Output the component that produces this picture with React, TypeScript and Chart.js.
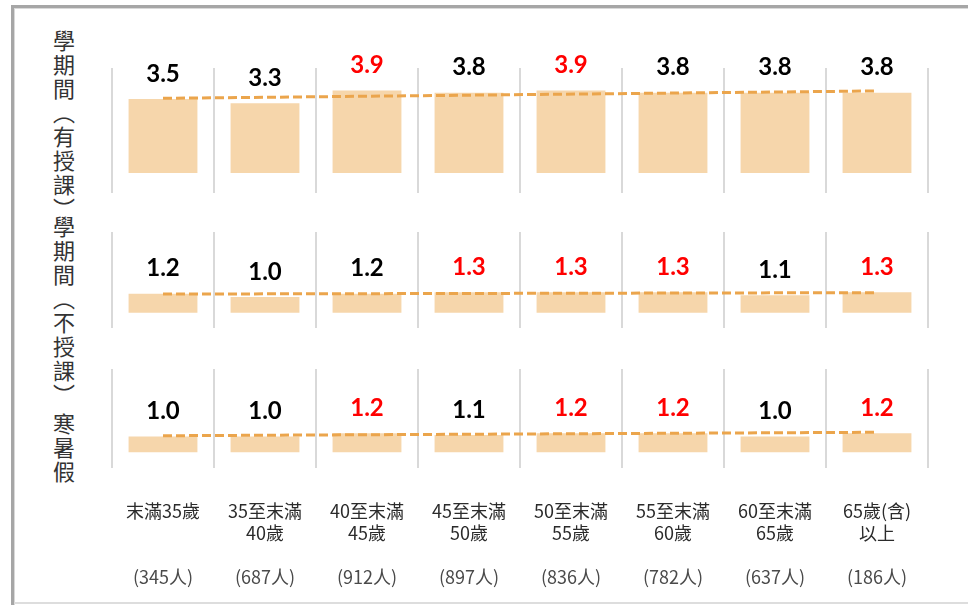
import React, { useEffect, useRef } from "react";
import { Chart, registerables } from "chart.js";

Chart.register(...registerables);

// ---------- data ----------
const categories: string[][] = [
  ["末滿35歲", ""],
  ["35至末滿", "40歲"],
  ["40至末滿", "45歲"],
  ["45至末滿", "50歲"],
  ["50至末滿", "55歲"],
  ["55至末滿", "60歲"],
  ["60至末滿", "65歲"],
  ["65歲(含)", "以上"],
];
const counts = ["(345人)", "(687人)", "(912人)", "(897人)", "(836人)", "(782人)", "(637人)", "(186人)"];

const panelLabels = ["學期間（有授課）", "學期間（不授課）", "寒暑假"];

const termTeaching = [3.5, 3.3, 3.9, 3.8, 3.9, 3.8, 3.8, 3.8];
const termNoTeaching = [1.2, 1.0, 1.2, 1.3, 1.3, 1.3, 1.1, 1.3];
const vacation = [1.0, 1.0, 1.2, 1.1, 1.2, 1.2, 1.0, 1.2];

const termTeachingHigh = [false, false, true, false, true, false, false, false];
const termNoTeachingHigh = [false, false, false, true, true, true, false, true];
const vacationHigh = [false, false, true, false, true, true, false, true];

// trend line: value at first and last category
const termTeachingTrend = [3.53, 3.88];
const termNoTeachingTrend = [1.18, 1.27];
const vacationTrend = [1.05, 1.27];

// ---------- styles ----------
const BAR_COLOR = "#F6D6AB";
const TREND_COLOR = "#EBA54C";
const GRID_COLOR = "#D9D9D9";
const RED = "#FF0000";
const BLACK = "#000000";

type Panel = {
  values: number[];
  high: boolean[];
  trend: number[];
  top: number;
  height: number;
  padTop: number;
  padBottom: number;
  yMin: number;
  yMax: number;
  showTicks: boolean;
};

const panels: Panel[] = [
  { values: termTeaching, high: termTeachingHigh, trend: termTeachingTrend, top: 40, height: 160, padTop: 28, padBottom: 7, yMin: -0.946, yMax: 4.965, showTicks: false },
  { values: termNoTeaching, high: termNoTeachingHigh, trend: termNoTeachingTrend, top: 200, height: 140, padTop: 32, padBottom: 12, yMin: -0.968, yMax: 5.11, showTicks: false },
  { values: vacation, high: vacationHigh, trend: vacationTrend, top: 340, height: 265, padTop: 29, padBottom: 17, yMin: -0.99, yMax: 5.27, showTicks: true },
];

const valueLabelPlugin = {
  id: "valueLabels",
  afterDatasetsDraw(chart: any) {
    const ctx = chart.ctx;
    chart.data.datasets.forEach((ds: any, i: number) => {
      const meta = chart.getDatasetMeta(i);
      if (meta.type !== "bar") return;
      const colors: string[] = ds.labelColors;
      meta.data.forEach((el: any, j: number) => {
        ctx.save();
        ctx.font = "bold 24px Lato, 'Open Sans', sans-serif";
        ctx.fillStyle = colors[j];
        ctx.textAlign = "center";
        ctx.textBaseline = "middle";
        ctx.fillText(Number(ds.data[j]).toFixed(1), el.x, el.y - 25);
        ctx.restore();
      });
    });
  },
};

function PanelChart({ p }: { p: Panel }) {
  const ref = useRef<HTMLCanvasElement>(null);
  useEffect(() => {
    if (!ref.current) return;
    const trendData: (number | null)[] = p.values.map(() => null);
    trendData[0] = p.trend[0];
    trendData[trendData.length - 1] = p.trend[1];
    const scales: any = {
      x: {
        type: "category",
        labels: categories as any,
        offset: true,
        weight: 0,
        grid: { display: true, offset: true, color: GRID_COLOR, lineWidth: 2, drawTicks: false },
        border: { display: false },
        ticks: {
          display: p.showTicks,
          color: "#2b2b2b",
          padding: 32,
          maxRotation: 0,
          minRotation: 0,
          autoSkip: false,
          font: { family: "'Noto Sans CJK TC', sans-serif", size: 18, lineHeight: 1.222 },
        },
        afterFit: (scale: any) => {
          if (p.showTicks) scale.height = 76;
          scale.paddingLeft = 0;
          scale.paddingRight = 0;
        },
      },
      y: { display: false, min: p.yMin, max: p.yMax },
    };
    if (p.showTicks) {
      scales.x2 = {
        type: "category",
        labels: counts,
        position: "bottom",
        offset: true,
        weight: 1,
        grid: { display: false, drawTicks: false },
        border: { display: false },
        ticks: {
          color: "#4a4a4a",
          padding: 22,
          maxRotation: 0,
          minRotation: 0,
          autoSkip: false,
          font: { family: "'Noto Sans CJK TC', sans-serif", size: 18, lineHeight: 1.222 },
        },
        afterFit: (scale: any) => {
          scale.height = 44;
          scale.paddingLeft = 0;
          scale.paddingRight = 0;
        },
      };
    }
    const chart = new Chart(ref.current, {
      type: "bar",
      data: {
        labels: categories as any,
        datasets: [
          {
            type: "line",
            data: trendData,
            spanGaps: true,
            borderColor: TREND_COLOR,
            borderWidth: 3,
            borderDash: [9, 4],
            pointRadius: 0,
            fill: false,
            order: 0,
            xAxisID: "x",
            yAxisID: "y",
          } as any,
          {
            type: "bar",
            data: p.values,
            backgroundColor: BAR_COLOR,
            borderWidth: 0,
            categoryPercentage: 1,
            barPercentage: 0.675,
            order: 1,
            labelColors: p.high.map((h) => (h ? RED : BLACK)),
            xAxisID: "x",
            yAxisID: "y",
          } as any,
        ],
      },
      options: {
        responsive: false,
        animation: false,
        events: [],
        layout: { padding: { left: 12, right: 12, top: p.padTop, bottom: p.padBottom } },
        plugins: { legend: { display: false }, tooltip: { enabled: false }, title: { display: false } },
        scales,
      },
      plugins: [valueLabelPlugin],
    });
    return () => chart.destroy();
  }, [p]);
  return (
    <canvas
      ref={ref}
      width={840}
      height={p.height}
      style={{ position: "absolute", left: 100, top: p.top, width: 840, height: p.height, display: "block" }}
    />
  );
}

const labelTops = [30, 216, 413];

export default function App() {
  return (
    <div
      style={{
        position: "fixed",
        left: 0,
        top: 0,
        width: 968,
        height: 605,
        background: "#ffffff",
        overflow: "hidden",
      }}
    >
      {/* frame */}
      <div style={{ position: "absolute", left: 11, top: 5, width: 957, height: 3, background: "#A6A6A6" }} />
      <div style={{ position: "absolute", left: 11, top: 8, width: 957, height: 1, background: "#D9D9D9" }} />
      <div style={{ position: "absolute", left: 11, top: 5, width: 3, height: 600, background: "#A6A6A6" }} />
      <div style={{ position: "absolute", left: 14, top: 8, width: 1, height: 597, background: "#D9D9D9" }} />
      <div style={{ position: "absolute", left: 14, top: 602, width: 954, height: 2, background: "#DDDDDD" }} />

      {panelLabels.map((t, i) => (
        <div
          key={i}
          style={{
            position: "absolute",
            left: 53,
            top: labelTops[i],
            writingMode: "vertical-rl",
            fontFamily: "'Noto Sans CJK TC', sans-serif",
            fontSize: 22,
            lineHeight: "22px",
            letterSpacing: "2px",
            color: "#333333",
            whiteSpace: "nowrap",
          }}
        >
          {t}
        </div>
      ))}

      {panels.map((p, i) => (
        <PanelChart key={i} p={p} />
      ))}
    </div>
  );
}
